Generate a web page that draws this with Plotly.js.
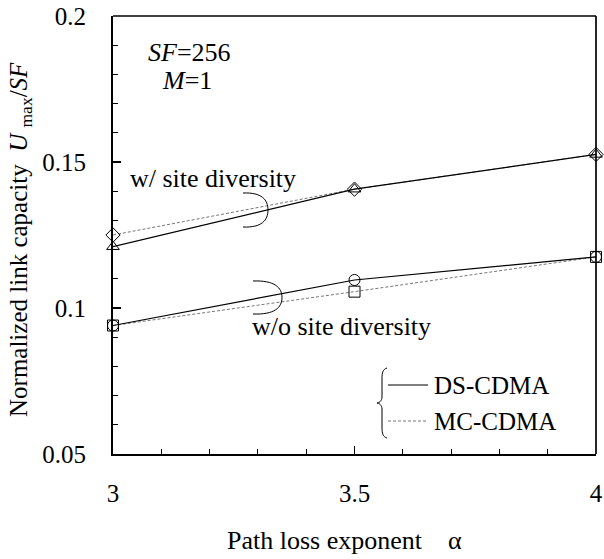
<!DOCTYPE html>
<html>
<head>
<meta charset="utf-8">
<script src="https://cdn.plot.ly/plotly-3.0.1.min.js"></script>
<style>
  html, body { margin: 0; padding: 0; background: #fff; }
  #chart { width: 604px; height: 559px; }
</style>
</head>
<body>
<div id="chart"></div>
<script>
// Path loss exponent
const alpha = [3, 3.5, 4];
// Normalized link capacity Umax/SF
const dsWithDiversity    = [0.121, 0.1407, 0.1526];
const mcWithDiversity    = [0.125, 0.1407, 0.1526];
const dsWithoutDiversity = [0.094, 0.1096, 0.1175];
const mcWithoutDiversity = [0.094, 0.1056, 0.1175];

const xTicks = [3, 3.5, 4];
const xTickText = ['3', '3.5', '4'];
const yTicks = [0.05, 0.1, 0.15, 0.2];
const yTickText = ['0.05', '0.1', '0.15', '0.2'];

const FONT = '"Liberation Serif", "DejaVu Serif", serif';
const NBSP = '\u00A0';

// plot frame in pixels
const L = 113, T = 16, W = 483, H = 438;
const px = x => (x - L) / W;
const py = y => (T + H - y) / H;

const solid = { color: '#000', width: 1.2 };
const dotted = { color: '#666', width: 0.9, dash: '3px,2px' };

function series(y, line, symbol) {
  return {
    x: alpha, y: y, mode: 'lines+markers', line: line,
    marker: { symbol: symbol, size: 11, color: '#000',
              line: { color: '#000', width: 1 } },
    showlegend: false, cliponaxis: false
  };
}

const traces = [
  series(mcWithDiversity, dotted, 'diamond-open'),
  series(dsWithDiversity, solid, 'triangle-up-open'),
  series(mcWithoutDiversity, dotted, 'square-open'),
  series(dsWithoutDiversity, solid, 'circle-open')
];

// ")" shaped bracket grouping a pair of curves
function bracket(lx, top, rx, bot) {
  const cy = (top + bot) / 2, ry = (bot - top) / 2, w = rx - lx;
  return {
    type: 'path', xref: 'paper', yref: 'paper',
    path: `M ${px(lx)},${py(top)} C ${px(lx + w * 0.75)},${py(top - ry * 0.05)} ${px(rx)},${py(cy - ry * 0.6)} ${px(rx)},${py(cy)} ` +
          `C ${px(rx)},${py(cy + ry * 0.6)} ${px(lx + w * 0.75)},${py(bot + ry * 0.05)} ${px(lx)},${py(bot)}`,
    line: { color: '#000', width: 1 }
  };
}

// legend brace "{"
function brace(x, y0, y1) {
  const ym = (y0 + y1) / 2;
  return {
    type: 'path', xref: 'paper', yref: 'paper',
    path: `M ${px(x + 5)},${py(y0)} C ${px(x + 1)},${py(y0 + 1)} ${px(x)},${py(y0 + 5)} ${px(x)},${py(y0 + 10)} ` +
          `L ${px(x)},${py(ym - 6)} C ${px(x)},${py(ym - 2)} ${px(x - 3)},${py(ym)} ${px(x - 5)},${py(ym)} ` +
          `C ${px(x - 3)},${py(ym)} ${px(x)},${py(ym + 2)} ${px(x)},${py(ym + 6)} ` +
          `L ${px(x)},${py(y1 - 10)} C ${px(x)},${py(y1 - 5)} ${px(x + 1)},${py(y1 - 1)} ${px(x + 5)},${py(y1)}`,
    line: { color: '#000', width: 1 }
  };
}

const shapes = [
  // top and right frame
  { type: 'line', xref: 'paper', yref: 'paper', x0: 0, x1: 1, y0: 1, y1: 1, line: { color: '#000', width: 1.7 } },
  { type: 'line', xref: 'paper', yref: 'paper', x0: 1, x1: 1, y0: 0, y1: 1, line: { color: '#000', width: 1.7 } },
  bracket(243, 193, 268, 227),
  bracket(253, 281, 282, 314),
  brace(382, 368, 438),
  { type: 'line', xref: 'paper', yref: 'paper', x0: px(388), x1: px(428), y0: py(385), y1: py(385), line: solid },
  { type: 'line', xref: 'paper', yref: 'paper', x0: px(388), x1: px(428), y0: py(421), y1: py(421), line: dotted }
];

const txt = (text, x, y, extra) => Object.assign({
  text: text, xref: 'paper', yref: 'paper', x: px(x), y: py(y),
  xanchor: 'left', yanchor: 'middle', showarrow: false,
  font: { family: FONT, size: 26, color: '#000' }
}, extra || {});

const f25 = { family: FONT, size: 25, color: '#000' };

const annotations = [
  txt('<i>SF</i>=256', 146, 53),
  txt('<i>M</i>=1', 160, 81),
  txt('w/ site diversity', 128, 178),
  txt('w/o site diversity', 250, 326),
  txt('DS-CDMA', 432, 385, { font: f25 }),
  txt('MC-CDMA', 432, 421, { font: f25 }),
  txt('Normalized link capacity' + NBSP + NBSP + '<i>U</i>' + NBSP + '<sub>max</sub>/<i>SF</i>', 20, 240,
      { xanchor: 'center', textangle: -90, font: f25 }),
  txt('Path loss exponent' + NBSP + NBSP + NBSP + NBSP + 'α', 344, 540,
      { xanchor: 'center', font: { family: FONT, size: 26, color: '#000' } })
];

const layout = {
  width: 604, height: 559,
  margin: { l: L, r: 604 - L - W, t: T, b: 559 - T - H, pad: 0 },
  paper_bgcolor: '#fff', plot_bgcolor: '#fff',
  font: f25,
  showlegend: false,
  xaxis: {
    range: [3, 4], tickvals: xTicks, ticktext: xTickText,
    ticks: 'inside', ticklen: 8, tickwidth: 1.3, tickcolor: '#000',
    minor: { dtick: 0.1, ticks: 'inside', ticklen: 5, tickwidth: 1, tickcolor: '#000' },
    showline: true, linewidth: 2, linecolor: '#000', showgrid: false, zeroline: false,
    tickfont: f25, ticklabelstandoff: 16, fixedrange: true
  },
  yaxis: {
    range: [0.05, 0.2], tickvals: yTicks, ticktext: yTickText,
    ticks: 'inside', ticklen: 8, tickwidth: 1.3, tickcolor: '#000',
    minor: { dtick: 0.01, ticks: 'inside', ticklen: 5, tickwidth: 1, tickcolor: '#000' },
    showline: true, linewidth: 2, linecolor: '#000', showgrid: false, zeroline: false,
    tickfont: f25, ticklabelstandoff: 20, fixedrange: true
  },
  shapes: shapes,
  annotations: annotations
};

Plotly.newPlot('chart', traces, layout, { displayModeBar: false, staticPlot: true });
</script>
</body>
</html>
